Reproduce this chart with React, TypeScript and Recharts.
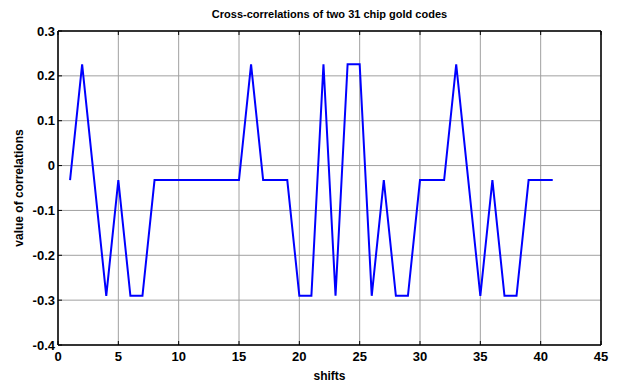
import React from "react"
import { LineChart, Line, XAxis, YAxis, CartesianGrid, Label } from "recharts"

// cross-correlation values: -1/31, -9/31, 7/31
const shifts = [
  1, 2, 3, 4, 5, 6, 7, 8, 9, 10, 11, 12, 13, 14, 15, 16, 17, 18, 19, 20, 21,
  22, 23, 24, 25, 26, 27, 28, 29, 30, 31, 32, 33, 34, 35, 36, 37, 38, 39, 40, 41,
]
const correlations = [
  -0.0323, 0.2258, -0.0323, -0.2903, -0.0323, -0.2903, -0.2903, -0.0323,
  -0.0323, -0.0323, -0.0323, -0.0323, -0.0323, -0.0323, -0.0323, 0.2258,
  -0.0323, -0.0323, -0.0323, -0.2903, -0.2903, 0.2258, -0.2903, 0.2258,
  0.2258, -0.2903, -0.0323, -0.2903, -0.2903, -0.0323, -0.0323, -0.0323,
  0.2258, -0.0323, -0.2903, -0.0323, -0.2903, -0.2903, -0.0323, -0.0323,
  -0.0323,
]
const xTicks = [0, 5, 10, 15, 20, 25, 30, 35, 40, 45]
const yTicks = [-0.4, -0.3, -0.2, -0.1, 0, 0.1, 0.2, 0.3]

const data = shifts.map((s, i) => ({ shift: s, value: correlations[i] }))

const font = "Arial, 'Liberation Sans', sans-serif"
const tickStyle = { fontSize: 13, fontWeight: "bold", fill: "#000", fontFamily: font }
const axisLine = { stroke: "#000", strokeWidth: 1.5 }
const tickLine = { stroke: "#000" }

const fmtY = (v: number) => (v === 0 ? "0" : v.toFixed(1))

export default function App() {
  return (
    <div style={{ position: "absolute", left: 0, top: 0, background: "#fff" }}>
      <LineChart
        width={622}
        height={383}
        data={data}
        margin={{ top: 0, right: 0, bottom: 0, left: 0 }}
      >
        <CartesianGrid stroke="#a0a0a0" strokeWidth={1} />
        <XAxis
          dataKey="shift"
          type="number"
          domain={[0, 45]}
          ticks={xTicks}
          height={38}
          tick={tickStyle}
          tickSize={-4}
          tickMargin={11}
          axisLine={axisLine}
          tickLine={tickLine}
          interval={0}
        >
          <Label
            value="shifts"
            position="insideBottom"
            offset={3}
            style={{ fontSize: 12, fontWeight: "bold", fill: "#000", fontFamily: font }}
          />
        </XAxis>
        <XAxis
          xAxisId="top"
          orientation="top"
          dataKey="shift"
          type="number"
          domain={[0, 45]}
          ticks={xTicks}
          height={31}
          tickFormatter={() => ""}
          tickSize={-4}
          axisLine={axisLine}
          tickLine={tickLine}
          interval={0}
        >
          <Label
            value="Cross-correlations of two 31 chip gold codes"
            position="insideTop"
            offset={10}
            style={{ fontSize: 11, fontWeight: "bold", fill: "#000", fontFamily: font }}
          />
        </XAxis>
        <YAxis
          type="number"
          domain={[-0.4, 0.3]}
          ticks={yTicks}
          width={58}
          tick={tickStyle}
          tickFormatter={fmtY}
          tickSize={-4}
          tickMargin={7}
          axisLine={axisLine}
          tickLine={tickLine}
          interval={0}
        >
          <Label
            value="value of correlations"
            position="insideLeft"
            angle={-90}
            offset={19}
            textAnchor="middle"
            style={{ fontSize: 12, fontWeight: "bold", fill: "#000", fontFamily: font, textAnchor: "middle" }}
          />
        </YAxis>
        <YAxis
          yAxisId="right"
          orientation="right"
          type="number"
          domain={[-0.4, 0.3]}
          ticks={yTicks}
          width={21}
          tickFormatter={() => ""}
          tickSize={-4}
          axisLine={axisLine}
          tickLine={tickLine}
          interval={0}
        />
        <Line
          type="linear"
          dataKey="value"
          stroke="#0000ff"
          strokeWidth={2}
          dot={false}
          isAnimationActive={false}
        />
      </LineChart>
    </div>
  )
}
